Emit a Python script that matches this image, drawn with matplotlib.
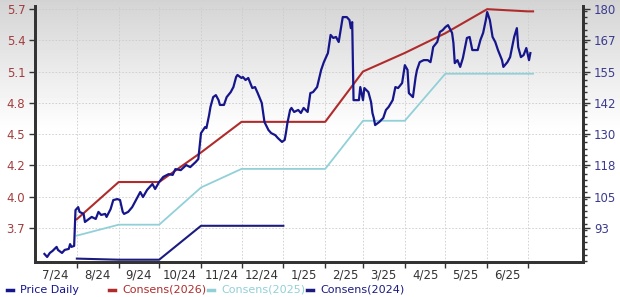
import numpy as np
import pandas as pd
import matplotlib.pyplot as plt
from matplotlib.lines import Line2D
from matplotlib.ticker import FixedLocator, NullFormatter

# --- Data ---
price_dates = [
    '2024-07-08', '2024-07-10', '2024-07-12', '2024-07-14', '2024-07-17', '2024-07-18',
    '2024-07-21', '2024-07-23', '2024-07-26', '2024-07-27', '2024-07-28', '2024-07-30',
    '2024-07-31', '2024-08-02', '2024-08-03', '2024-08-06', '2024-08-07', '2024-08-09',
    '2024-08-12', '2024-08-15', '2024-08-17', '2024-08-19', '2024-08-22', '2024-08-23',
    '2024-08-26', '2024-08-28', '2024-08-31', '2024-09-02', '2024-09-04', '2024-09-05',
    '2024-09-08', '2024-09-11', '2024-09-15', '2024-09-17', '2024-09-19', '2024-09-22',
    '2024-09-26', '2024-09-28', '2024-10-01', '2024-10-04', '2024-10-08', '2024-10-11',
    '2024-10-13', '2024-10-17', '2024-10-21', '2024-10-24', '2024-10-28', '2024-10-30',
    '2024-11-01', '2024-11-04', '2024-11-05', '2024-11-07', '2024-11-08', '2024-11-10',
    '2024-11-12', '2024-11-14', '2024-11-15', '2024-11-18', '2024-11-20', '2024-11-23',
    '2024-11-25', '2024-11-27', '2024-11-28', '2024-12-01', '2024-12-02', '2024-12-04',
    '2024-12-06', '2024-12-09', '2024-12-11', '2024-12-13', '2024-12-16', '2024-12-18',
    '2024-12-21', '2024-12-23', '2024-12-26', '2024-12-28', '2024-12-31', '2025-01-02',
    '2025-01-03', '2025-01-04', '2025-01-06', '2025-01-07', '2025-01-09', '2025-01-12',
    '2025-01-14', '2025-01-16', '2025-01-19', '2025-01-21', '2025-01-23', '2025-01-26',
    '2025-01-29', '2025-01-31', '2025-02-03', '2025-02-05', '2025-02-07', '2025-02-09',
    '2025-02-11', '2025-02-13', '2025-02-14', '2025-02-17', '2025-02-19', '2025-02-20',
    '2025-02-21', '2025-02-22', '2025-02-24', '2025-02-26', '2025-02-27', '2025-03-01',
    '2025-03-02', '2025-03-05', '2025-03-07', '2025-03-08', '2025-03-09', '2025-03-10',
    '2025-03-13', '2025-03-16', '2025-03-18', '2025-03-20', '2025-03-23', '2025-03-25',
    '2025-03-27', '2025-03-30', '2025-04-01', '2025-04-03', '2025-04-04', '2025-04-07',
    '2025-04-09', '2025-04-10', '2025-04-12', '2025-04-15', '2025-04-18', '2025-04-20',
    '2025-04-21', '2025-04-22', '2025-04-25', '2025-04-27', '2025-04-29', '2025-05-01',
    '2025-05-03', '2025-05-06', '2025-05-07', '2025-05-08', '2025-05-10', '2025-05-12',
    '2025-05-14', '2025-05-17', '2025-05-19', '2025-05-21', '2025-05-25', '2025-05-27',
    '2025-05-29', '2025-05-31', '2025-06-01', '2025-06-03', '2025-06-05', '2025-06-07',
    '2025-06-09', '2025-06-12', '2025-06-13', '2025-06-16', '2025-06-18', '2025-06-21',
    '2025-06-23', '2025-06-24', '2025-06-26', '2025-06-28', '2025-06-30', '2025-07-02',
    '2025-07-03',
]
price_vals = [
    82.7, 81.5, 83.1, 83.9, 85.5, 84.3,
    83.1, 84.3, 84.7, 86.6, 85.5, 85.9,
    100.1, 101.3, 99.4, 98.6, 95.4, 96.2,
    97.4, 96.6, 99.4, 98.2, 98.6, 97.4,
    100.5, 104.1, 104.5, 104.1, 99.4, 98.6,
    99.4, 101.3, 105.3, 107.3, 105.3, 108.1,
    110.5, 108.5, 111.3, 113.3, 114.4, 114.1,
    116.4, 116.0, 118.0, 117.2, 119.2, 120.4,
    130.7, 133.1, 132.7, 137.9, 141.1, 145.0,
    145.8, 143.8, 141.9, 141.9, 145.0, 147.0,
    149.0, 153.0, 153.8, 152.6, 153.0, 151.8,
    152.6, 148.6, 149.0, 146.6, 142.7, 135.1,
    131.9, 130.7, 129.9, 128.7, 127.2, 128.0,
    131.1, 134.7, 139.9, 140.7, 139.1, 139.9,
    138.7, 140.7, 139.1, 146.6, 147.0, 149.0,
    155.8, 158.9, 162.5, 169.7, 168.5, 168.9,
    166.9, 173.6, 176.8, 176.8, 175.6, 172.4,
    174.8, 143.8, 143.8, 143.8, 149.0, 143.8,
    148.6, 147.0, 143.0, 138.7, 136.7, 133.9,
    135.1, 136.7, 139.9, 141.1, 143.8, 149.0,
    148.6, 150.6, 157.7, 155.8, 146.6, 145.0,
    153.0, 155.8, 158.9, 159.7, 159.7, 158.9,
    161.7, 164.9, 166.9, 170.9, 171.6, 172.8,
    173.6, 170.5, 166.5, 158.5, 159.7, 157.0,
    160.5, 168.5, 168.9, 163.7, 163.7, 167.7,
    170.5, 175.6, 178.8, 175.6, 168.9, 166.9,
    163.7, 159.7, 157.0, 158.9, 160.9, 168.9,
    172.4, 164.9, 160.9, 161.7, 164.5, 159.7,
    162.5,
]

cons_dates = ['2024-08-01', '2024-09-01', '2024-10-01', '2024-11-01', '2024-12-01',
              '2025-01-01', '2025-02-01', '2025-03-01', '2025-04-01', '2025-05-01',
              '2025-06-01', '2025-07-01', '2025-07-05']
cons_2026 = [3.78, 4.12, 4.12, 4.39, 4.67, 4.67, 4.67, 5.13, 5.30, 5.48, 5.70, 5.68, 5.68]
cons_2025 = [3.63, 3.73, 3.73, 4.07, 4.24, 4.24, 4.24, 4.68, 4.68, 5.11, 5.11, 5.11, 5.11]

cons24_dates = ['2024-08-01', '2024-09-01', '2024-10-01', '2024-11-01', '2024-12-01', '2025-01-01']
cons_2024 = [3.42, 3.41, 3.41, 3.72, 3.72, 3.72]

eps_labels = ['3.7', '4.0', '4.2', '4.5', '4.8', '5.1', '5.4', '5.7']
price_labels = ['93', '105', '118', '130', '142', '155', '167', '180']
month_labels = ['7/24', '8/24', '9/24', '10/24', '11/24', '12/24',
                '1/25', '2/25', '3/25', '4/25', '5/25', '6/25']

price_dates = pd.to_datetime(price_dates)
cons_dates = pd.to_datetime(cons_dates)
cons24_dates = pd.to_datetime(cons24_dates)

# --- Colors ---
c_price = '#16168c'
c_26 = '#b02c2c'
c_25 = '#92d0d8'
c_24 = '#1c1c80'

# --- Figure + gradient background ---
fig = plt.figure(figsize=(6.2, 2.97), dpi=100)
bg = fig.add_axes([0, 0, 1, 1], zorder=-1)
rows = np.clip(np.arange(297) / 130.0, 0, 1)
shade = 0.83 + 0.17 * rows
bg.imshow(shade[:, None], cmap='gray', vmin=0, vmax=1, aspect='auto', extent=[0, 1, 0, 1])
bg.axis('off')

ax = fig.add_axes([35 / 620, 35 / 297, 548 / 620, 256 / 297])
ax.patch.set_alpha(0)
ax2 = ax.twinx()

# --- Lines ---
ax.plot(cons_dates, cons_2025, color=c_25, lw=1.3)
ax.plot(cons24_dates, cons_2024, color=c_24, lw=1.5)
ax.plot(cons_dates, cons_2026, color=c_26, lw=1.5)
ax2.plot(price_dates, price_vals, color=c_price, lw=1.6)

# --- Axes limits / ticks ---
ax.set_xlim(pd.Timestamp('2024-07-01'), pd.Timestamp('2025-08-11'))
ax.set_ylim(3.389, 5.729)
ax2.set_ylim(79.5, 181.2)

eps_ticks = np.linspace(3.7, 5.7, 8)
price_ticks = np.linspace(93, 180, 8)
ax.set_yticks(eps_ticks)
ax.set_yticklabels(eps_labels)
ax2.set_yticks(price_ticks)
ax2.set_yticklabels(price_labels)
ax2.yaxis.set_minor_locator(FixedLocator(np.arange(79.5 + 0.3, 181.2, 87 / 7 / 5)))

month_starts = pd.date_range('2024-08-01', '2025-07-01', freq='MS')
month_mids = pd.date_range('2024-07-01', '2025-06-01', freq='MS') + pd.Timedelta(days=15)
ax.set_xticks(month_starts)
ax.xaxis.set_major_formatter(NullFormatter())
ax.set_xticks(month_mids, minor=True)
ax.set_xticklabels(month_labels, minor=True)

ax.tick_params(axis='x', which='major', length=4, width=1, color='#333333')
ax.tick_params(axis='x', which='minor', length=0, pad=5, labelsize=8.5, labelcolor='#333333')
ax.tick_params(axis='y', length=4, width=1, color='#333333', pad=3,
               labelsize=8.5, labelcolor='#a33c3c')
ax2.tick_params(axis='y', which='major', length=5, width=1, color='#333333', pad=3,
                labelsize=8.5, labelcolor='#3b3b8f')
ax2.tick_params(axis='y', which='minor', length=3, width=1, color='#333333')

# grid
ax.grid(True, which='major', axis='both', color='#cccccc', linestyle=(0, (2, 2)), lw=0.6)

for a in (ax, ax2):
    a.spines['top'].set_visible(False)
    for s in ('left', 'right', 'bottom'):
        a.spines[s].set_linewidth(2)
        a.spines[s].set_color('#333333')

# --- Legend (manual) ---
items = [('Price Daily', c_price, 7), ('Consens(2026)', c_26, 109),
         ('Consens(2025)', c_25, 208), ('Consens(2024)', c_24, 307)]
for label, col, x0 in items:
    y = 1 - 290 / 297
    fig.add_artist(Line2D([x0 / 620, (x0 + 6) / 620], [y, y], color=col, lw=2.5,
                          transform=fig.transFigure))
    fig.text((x0 + 13) / 620, y, label, color=col, fontsize=8, va='center', ha='left')

plt.savefig('out.png', dpi=100)
